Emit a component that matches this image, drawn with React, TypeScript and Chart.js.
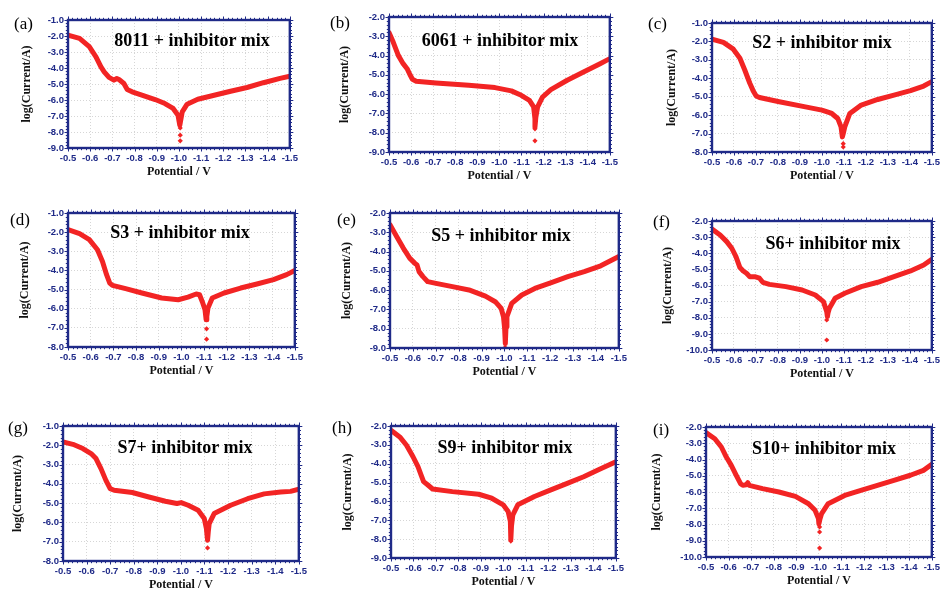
import React, { useEffect, useRef } from "react";
import { Chart, registerables } from "chart.js";

Chart.register(...registerables);

// ---------- data (potential in V, log(current/A)) ----------
const aPotential = [-0.5, -0.552, -0.596, -0.626, -0.648, -0.663, -0.685, -0.707, -0.72, -0.73, -0.752, -0.767, -0.789, -0.833, -0.893, -0.937, -0.974, -0.996, -1.004, -1.015, -1.037, -1.085, -1.159, -1.233, -1.307, -1.381, -1.456, -1.5];
const aLogCurrent = [-1.95, -2.15, -2.67, -3.3, -3.92, -4.24, -4.59, -4.76, -4.66, -4.72, -4.97, -5.34, -5.49, -5.7, -5.97, -6.22, -6.53, -6.95, -7.58, -6.74, -6.26, -5.95, -5.7, -5.45, -5.22, -4.92, -4.65, -4.51];
const aDipPotential = [-1.006, -1.006, -1.006];
const aDipLogCurrent = [-7.75, -8.2, -8.55];

const bPotential = [-0.5, -0.519, -0.542, -0.564, -0.582, -0.594, -0.606, -0.623, -0.712, -0.861, -0.98, -1.054, -1.099, -1.136, -1.155, -1.161, -1.161, -1.165, -1.173, -1.195, -1.233, -1.307, -1.381, -1.456, -1.5];
const bLogCurrent = [-2.81, -3.3, -3.99, -4.42, -4.68, -4.97, -5.23, -5.33, -5.42, -5.54, -5.66, -5.83, -6.06, -6.32, -6.66, -7.27, -7.7, -7.2, -6.66, -6.15, -5.77, -5.28, -4.85, -4.42, -4.16];
const bDipPotential = [-1.161, -1.161];
const bDipLogCurrent = [-7.8, -8.42];

const cPotential = [-0.5, -0.552, -0.597, -0.627, -0.649, -0.672, -0.687, -0.701, -0.716, -0.806, -0.925, -1.0, -1.045, -1.072, -1.087, -1.093, -1.097, -1.104, -1.127, -1.179, -1.254, -1.328, -1.403, -1.463, -1.5];
const cLogCurrent = [-1.87, -2.05, -2.42, -2.91, -3.55, -4.27, -4.67, -4.96, -5.04, -5.27, -5.55, -5.73, -5.91, -6.18, -6.64, -7.18, -7.0, -6.64, -5.91, -5.45, -5.15, -4.91, -4.67, -4.42, -4.18];
const cDipPotential = [-1.097, -1.097];
const cDipLogCurrent = [-7.55, -7.73];

const dPotential = [-0.5, -0.551, -0.594, -0.63, -0.652, -0.67, -0.684, -0.696, -0.754, -0.826, -0.913, -0.986, -1.029, -1.065, -1.08, -1.094, -1.104, -1.109, -1.112, -1.117, -1.136, -1.188, -1.261, -1.333, -1.406, -1.464, -1.5];
const dLogCurrent = [-1.87, -2.08, -2.39, -2.92, -3.53, -4.22, -4.66, -4.78, -4.95, -5.18, -5.44, -5.53, -5.39, -5.23, -5.27, -5.7, -6.05, -6.57, -6.4, -5.97, -5.44, -5.18, -4.92, -4.71, -4.48, -4.22, -4.0];
const dDipPotential = [-1.111, -1.111];
const dDipLogCurrent = [-7.05, -7.59];

const ePotential = [-0.5, -0.529, -0.558, -0.586, -0.608, -0.618, -0.627, -0.644, -0.665, -0.701, -0.773, -0.845, -0.917, -0.96, -0.986, -0.996, -1.001, -1.004, -1.007, -1.011, -1.032, -1.076, -1.133, -1.205, -1.277, -1.349, -1.421, -1.5];
const eLogCurrent = [-2.61, -3.22, -3.82, -4.34, -4.6, -4.69, -5.04, -5.3, -5.56, -5.65, -5.82, -5.99, -6.31, -6.6, -6.95, -7.38, -7.99, -8.77, -7.9, -7.38, -6.69, -6.25, -5.91, -5.61, -5.3, -5.04, -4.74, -4.26];
const eDipPotential = [-1.003];
const eDipLogCurrent = [-8.98];

const fPotential = [-0.5, -0.537, -0.567, -0.59, -0.609, -0.627, -0.642, -0.657, -0.672, -0.694, -0.716, -0.731, -0.761, -0.836, -0.91, -0.97, -1.007, -1.022, -1.025, -1.028, -1.034, -1.06, -1.104, -1.179, -1.254, -1.328, -1.403, -1.463, -1.5];
const fLogCurrent = [-2.5, -2.87, -3.28, -3.69, -4.21, -4.89, -5.1, -5.24, -5.45, -5.45, -5.55, -5.8, -5.93, -6.07, -6.28, -6.59, -7.0, -7.62, -7.93, -7.7, -7.41, -6.79, -6.48, -6.07, -5.8, -5.45, -5.1, -4.73, -4.38];
const fDipPotential = [-1.022, -1.022];
const fDipLogCurrent = [-8.14, -9.38];

const gPotential = [-0.5, -0.542, -0.584, -0.619, -0.64, -0.661, -0.682, -0.7, -0.717, -0.794, -0.864, -0.934, -0.983, -1.001, -1.031, -1.073, -1.099, -1.108, -1.113, -1.116, -1.12, -1.141, -1.211, -1.283, -1.353, -1.423, -1.465, -1.5];
const gLogCurrent = [-1.83, -1.95, -2.17, -2.43, -2.69, -3.21, -3.82, -4.25, -4.33, -4.45, -4.68, -4.9, -5.02, -4.97, -5.11, -5.37, -5.8, -6.32, -6.92, -6.5, -6.06, -5.54, -5.11, -4.77, -4.52, -4.42, -4.39, -4.28];
const gDipPotential = [-1.113];
const gDipLogCurrent = [-7.32];

const hPotential = [-0.5, -0.539, -0.569, -0.598, -0.62, -0.634, -0.645, -0.664, -0.685, -0.773, -0.89, -0.948, -0.999, -1.021, -1.031, -1.033, -1.036, -1.042, -1.064, -1.138, -1.211, -1.284, -1.357, -1.43, -1.5];
const hLogCurrent = [-2.23, -2.58, -3.02, -3.63, -4.16, -4.6, -4.95, -5.13, -5.34, -5.48, -5.62, -5.83, -6.18, -6.53, -7.06, -8.03, -7.3, -6.71, -6.18, -5.74, -5.39, -5.04, -4.69, -4.28, -3.9];
const hDipPotential = [-1.033];
const hDipLogCurrent = [-8.1];

const iPotential = [-0.5, -0.539, -0.568, -0.59, -0.612, -0.634, -0.653, -0.663, -0.678, -0.685, -0.692, -0.75, -0.823, -0.896, -0.954, -0.983, -0.998, -1.0, -1.004, -1.012, -1.041, -1.114, -1.186, -1.259, -1.332, -1.405, -1.463, -1.5];
const iLogCurrent = [-2.35, -2.72, -3.23, -3.85, -4.36, -4.97, -5.49, -5.59, -5.55, -5.43, -5.59, -5.79, -6.0, -6.27, -6.72, -7.13, -7.64, -7.95, -7.7, -7.33, -6.72, -6.21, -5.9, -5.59, -5.28, -4.97, -4.67, -4.3];
const iDipPotential = [-1.003, -1.003, -1.003];
const iDipLogCurrent = [-8.15, -8.46, -9.45];

// ---------- panels ----------
const panelLabels = ["(a)", "(b)", "(c)", "(d)", "(e)", "(f)", "(g)", "(h)", "(i)"];
const panelTitles = [
  "8011 + inhibitor mix",
  "6061 + inhibitor mix",
  "S2 + inhibitor mix",
  "S3 + inhibitor mix",
  "S5 + inhibitor mix",
  "S6+ inhibitor mix",
  "S7+ inhibitor mix",
  "S9+ inhibitor mix",
  "S10+ inhibitor mix",
];
const yMins = [-9, -9, -8, -8, -9, -10, -8, -9, -10];
const yMaxs = [-1, -2, -1, -1, -2, -2, -1, -2, -2];
const xMin = -1.5;
const xMax = -0.5;
const xLabel = "Potential / V";
const yLabel = "log(Current/A)";

const seriesX = [aPotential, bPotential, cPotential, dPotential, ePotential, fPotential, gPotential, hPotential, iPotential];
const seriesY = [aLogCurrent, bLogCurrent, cLogCurrent, dLogCurrent, eLogCurrent, fLogCurrent, gLogCurrent, hLogCurrent, iLogCurrent];
const dipX = [aDipPotential, bDipPotential, cDipPotential, dDipPotential, eDipPotential, fDipPotential, gDipPotential, hDipPotential, iDipPotential];
const dipY = [aDipLogCurrent, bDipLogCurrent, cDipLogCurrent, dDipLogCurrent, eDipLogCurrent, fDipLogCurrent, gDipLogCurrent, hDipLogCurrent, iDipLogCurrent];

// ---------- layout (page pixels) ----------
const LAYOUT = [
  { L: 68, T: 20, R: 293, B: 148, yOff: 41, tx: 192, ty: 40, lx: 14, ly: 24 },
  { L: 389, T: 17, R: 613, B: 152, yOff: 44, tx: 500, ty: 40, lx: 330, ly: 23 },
  { L: 712, T: 23, R: 935, B: 152, yOff: 40, tx: 822, ty: 42, lx: 648, ly: 24 },
  { L: 68, T: 213, R: 298, B: 347, yOff: 43, tx: 180, ty: 232, lx: 10, ly: 220 },
  { L: 390, T: 213, R: 622, B: 348, yOff: 43, tx: 501, ty: 235, lx: 337, ly: 220 },
  { L: 712, T: 221, R: 935, B: 350, yOff: 44, tx: 833, ty: 243, lx: 653, ly: 222 },
  { L: 63, T: 426, R: 302, B: 561, yOff: 45, tx: 185, ty: 447, lx: 8, ly: 428 },
  { L: 391, T: 426, R: 619, B: 558, yOff: 43, tx: 505, ty: 447, lx: 332, ly: 428 },
  { L: 706, T: 427, R: 935, B: 557, yOff: 49, tx: 824, ty: 448, lx: 653, ly: 430 },
];

const NAVY = "#1f2a88";
const RED = "#f22424";
const YW = 62;
const XH = 42;
const PT = 10;
const PR = 10;
const TITLE_FONT = 12;
const X_TITLE_OFF = 24;

const framePlugin = {
  id: "frame",
  afterDatasetsDraw(chart: any) {
    const { ctx, chartArea: a, scales } = chart;
    const x = scales.x;
    const y = scales.y;
    ctx.save();
    ctx.strokeStyle = NAVY;
    ctx.lineWidth = 2.4;
    ctx.strokeRect(a.left, a.top, a.right - a.left, a.bottom - a.top);
    ctx.lineWidth = 1;
    ctx.beginPath();
    const nx = Math.round((x.max - x.min) / 0.02);
    for (let i = 0; i <= nx; i++) {
      const px = Math.round(x.getPixelForValue(x.min + i * 0.02)) + 0.5;
      const len = i % 5 === 0 ? 3.5 : 2.2;
      ctx.moveTo(px, a.top);
      ctx.lineTo(px, a.top - len);
      ctx.moveTo(px, a.bottom);
      ctx.lineTo(px, a.bottom + len);
    }
    const ny = Math.round((y.max - y.min) / 0.2);
    for (let i = 0; i <= ny; i++) {
      const py = Math.round(y.getPixelForValue(y.min + i * 0.2)) + 0.5;
      const len = i % 5 === 0 ? 3.5 : 2.2;
      ctx.moveTo(a.left, py);
      ctx.lineTo(a.left - len, py);
      ctx.moveTo(a.right, py);
      ctx.lineTo(a.right + len, py);
    }
    ctx.stroke();
    ctx.restore();
  },
};

function Panel({ idx }: { idx: number }) {
  const ref = useRef<HTMLCanvasElement | null>(null);
  const lay = LAYOUT[idx];
  const w = lay.R - lay.L + YW + PR;
  const h = lay.B - lay.T + PT + XH;

  useEffect(() => {
    if (!ref.current) return;
    const lh = TITLE_FONT * 1.2;
    const line = seriesX[idx].map((v, k) => ({ x: v, y: seriesY[idx][k] }));
    const dips = dipX[idx].map((v, k) => ({ x: v, y: dipY[idx][k] }));
    const tickFont = { family: "'Liberation Sans', Arial, sans-serif", size: 9.5, weight: "bold" as const };
    const titleFont = { family: "'Liberation Serif', 'Times New Roman', serif", size: TITLE_FONT, weight: "bold" as const };
    const chart = new Chart(ref.current, {
      type: "line",
      data: {
        datasets: [
          {
            data: line,
            borderColor: RED,
            backgroundColor: RED,
            borderWidth: 5,
            pointRadius: 0,
            tension: 0,
            borderJoinStyle: "round",
            borderCapStyle: "round",
          } as any,
          {
            data: dips,
            showLine: false,
            borderColor: RED,
            backgroundColor: RED,
            pointStyle: "rectRot",
            pointRadius: 2.6,
            pointBorderWidth: 0,
          } as any,
        ],
      },
      options: {
        responsive: false,
        animation: false,
        events: [],
        layout: { padding: { left: 0, top: PT, right: PR, bottom: 0 } },
        plugins: { legend: { display: false }, tooltip: { enabled: false }, title: { display: false } },
        scales: {
          x: {
            type: "linear",
            min: xMin,
            max: xMax,
            reverse: true,
            afterFit: (s: any) => {
              s.height = XH;
            },
            grid: { color: "#d6d6d6", drawTicks: false, lineWidth: 1 },
            border: { display: false, dash: [1, 2] },
            ticks: {
              stepSize: 0.1,
              color: NAVY,
              font: tickFont,
              padding: 5,
              maxRotation: 0,
              autoSkip: false,
              callback: (v: any) => Number(v).toFixed(1),
            },
            title: {
              display: true,
              text: xLabel,
              color: "#111",
              font: titleFont,
              padding: { top: 0, bottom: XH - X_TITLE_OFF - lh / 2 },
            },
          },
          y: {
            type: "linear",
            min: yMins[idx],
            max: yMaxs[idx],
            afterFit: (s: any) => {
              s.width = YW;
            },
            grid: { color: "#d6d6d6", drawTicks: false, lineWidth: 1 },
            border: { display: false, dash: [1, 2] },
            ticks: {
              stepSize: 1,
              color: NAVY,
              font: tickFont,
              padding: 4,
              autoSkip: false,
              callback: (v: any) => Number(v).toFixed(1),
            },
            title: {
              display: true,
              text: yLabel,
              color: "#111",
              font: titleFont,
              padding: { top: YW - lay.yOff - lh / 2, bottom: 0 },
            },
          },
        },
      },
      plugins: [framePlugin],
    } as any);
    return () => chart.destroy();
  }, [idx]);

  return (
    <>
      <canvas
        ref={ref}
        width={w}
        height={h}
        style={{ position: "absolute", left: lay.L - YW, top: lay.T - PT, width: w, height: h }}
      />
      <div
        style={{
          position: "absolute",
          left: lay.tx - 120,
          width: 240,
          top: lay.ty - 12,
          height: 24,
          lineHeight: "24px",
          textAlign: "center",
          fontFamily: "'Liberation Serif', 'Times New Roman', serif",
          fontWeight: "bold",
          fontSize: 18,
          color: "#000",
          whiteSpace: "nowrap",
        }}
      >
        {panelTitles[idx]}
      </div>
      <div
        style={{
          position: "absolute",
          left: lay.lx,
          top: lay.ly - 11,
          height: 22,
          lineHeight: "22px",
          fontFamily: "'Liberation Serif', 'Times New Roman', serif",
          fontSize: 17,
          color: "#000",
          whiteSpace: "nowrap",
        }}
      >
        {panelLabels[idx]}
      </div>
    </>
  );
}

export default function App() {
  return (
    <div
      style={{
        position: "absolute",
        left: 0,
        top: 0,
        width: 943,
        height: 590,
        background: "#fff",
        overflow: "hidden",
      }}
    >
      {panelLabels.map((_, i) => (
        <Panel key={i} idx={i} />
      ))}
    </div>
  );
}
